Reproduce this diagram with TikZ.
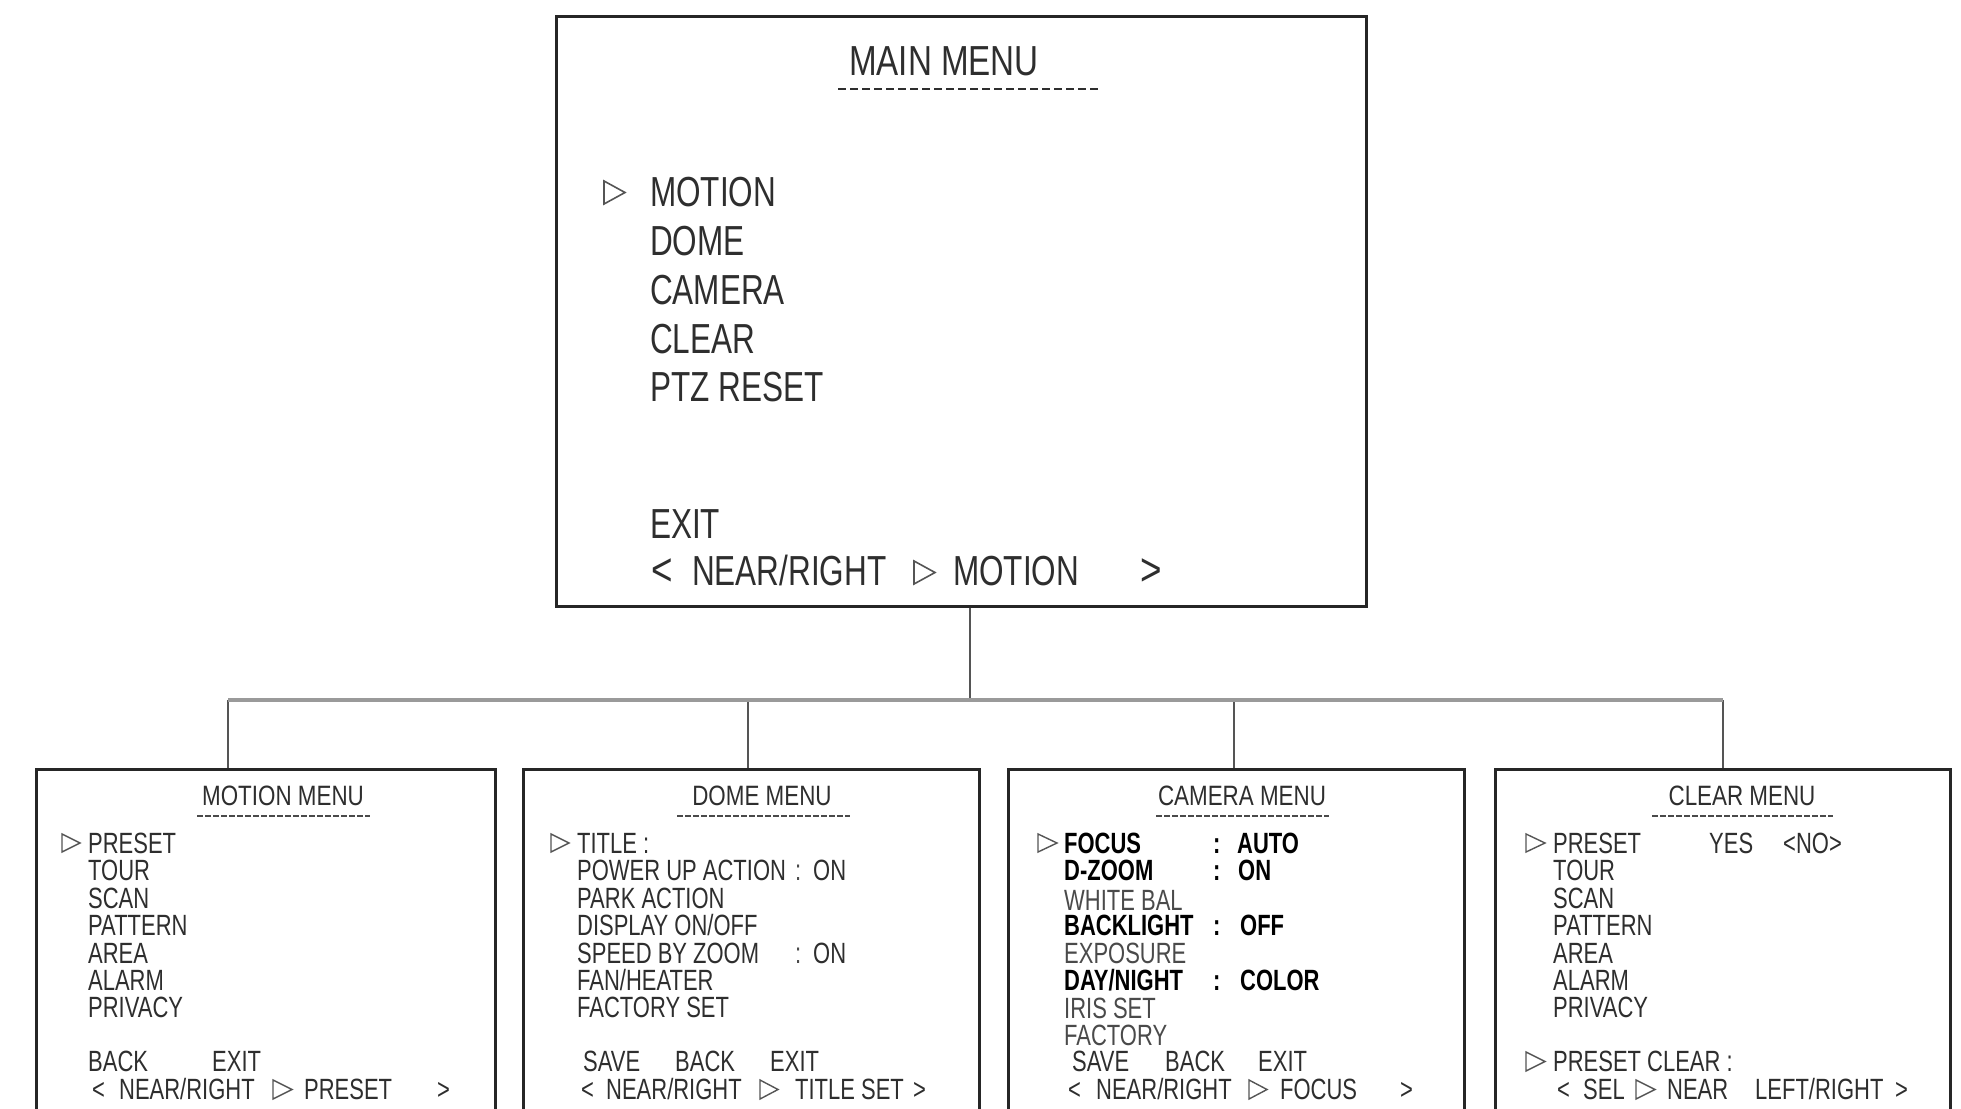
\documentclass[tikz,border=0pt]{standalone}
\usepackage{fontspec}
\newfontfamily\condA[FakeStretch=0.75]{Liberation Sans}
\newfontfamily\condT[FakeStretch=0.80]{Liberation Sans}
\newfontfamily\condM[FakeStretch=0.79]{Liberation Sans}
\definecolor{txtc}{HTML}{2E2E2E}
\definecolor{lightc}{HTML}{4A4A4A}
\definecolor{boxc}{HTML}{262626}
\definecolor{linec}{HTML}{555555}
\definecolor{barc}{HTML}{9A9A9A}
\begin{document}
\begin{tikzpicture}[x=1pt,y=-1pt,
  menubox/.style={draw=boxc,line width=3pt,inner sep=0pt,fill=none},
  mtxt/.style={anchor=base west,inner sep=0pt,text=txtc,font=\condA\fontsize{42}{42}\selectfont},
  mttl/.style={anchor=base,inner sep=0pt,text=txtc,font=\condM\fontsize{42}{42}\selectfont},
  stxt/.style={anchor=base west,inner sep=0pt,text=txtc,font=\condA\fontsize{29.3}{30}\selectfont},
  sbold/.style={stxt,text=black,font=\condA\bfseries\fontsize{29.3}{30}\selectfont},
  slight/.style={stxt,text=lightc},
  sttl/.style={anchor=base,inner sep=0pt,text=txtc,font=\condT\fontsize{28}{28}\selectfont},
  mdash/.style={draw=txtc,line width=2.6pt,dash pattern=on 8pt off 4pt},
  sdash/.style={draw=lightc,line width=2.4pt,dash pattern=on 5.5pt off 2.5pt},
  tribig/.style={draw=linec,line width=1.6pt,line join=miter},
  trismall/.style={draw=linec,line width=1.4pt,line join=miter},
  conn/.style={draw=linec,line width=1.4pt},
  bar/.style={draw=barc,line width=3.5pt}
]
\useasboundingbox (0,0) rectangle (1961,1108);
\clip (0,0) rectangle (1961,1108);
\fill[white] (0,0) rectangle (1961,1108);

% ---------------- main menu ----------------
\node[menubox,minimum width=810pt,minimum height=589pt] (main) at (961,311.5) {};
\node[mttl] (mtitle) at (944,75) {MAIN MENU};
\draw[mdash] (838,89) -- (1099,89);
\draw[tribig] (604,181) -- (625,192.5) -- (604,204) -- cycle;
\node[mtxt] (m1) at (650,206) {MOTION};
\node[mtxt] (m2) at (650,255) {DOME};
\node[mtxt] (m3) at (650,304) {CAMERA};
\node[mtxt] (m4) at (650,353) {CLEAR};
\node[mtxt] (m5) at (650,401) {PTZ RESET};
\node[mtxt] (m6) at (650,538) {EXIT};
\node[mtxt,font=\condT\fontsize{46}{46}\selectfont] (mlt) at (651,585) {<};
\node[mtxt] (mnr) at (692,585) {NEAR/RIGHT};
\draw[tribig] (914,561) -- (935,572.5) -- (914,584) -- cycle;
\node[mtxt] (mmo) at (953,585) {MOTION};
\node[mtxt,font=\condT\fontsize{46}{46}\selectfont] (mgt) at (1140,585) {>};

% ---------------- sub menu boxes ----------------
\node[menubox,minimum width=459pt,minimum height=370pt,anchor=north west] (mot) at (34.5,767.5) {};
\node[menubox,minimum width=456pt,minimum height=370pt,anchor=north west] (dom) at (521.5,767.5) {};
\node[menubox,minimum width=456pt,minimum height=370pt,anchor=north west] (cam) at (1006.5,767.5) {};
\node[menubox,minimum width=455pt,minimum height=370pt,anchor=north west] (clr) at (1493.5,767.5) {};

% ---------------- connectors ----------------
\coordinate (jn) at (970,700);
\coordinate (h1) at (228,700);
\coordinate (h2) at (748,700);
\coordinate (h3) at (1234,700);
\coordinate (h4) at (1723,700);
\draw[conn] (main.south -| jn) -- (jn);
\draw[conn] (h1) -- (h1 |- mot.north);
\draw[conn] (h2) -- (h2 |- dom.north);
\draw[conn] (h3) -- (h3 |- cam.north);
\draw[conn] (h4) -- (h4 |- clr.north);
\draw[bar] (h1) -- (h4);

% ---------------- motion menu ----------------
\node[sttl] (t1) at (283,805) {MOTION MENU};
\draw[sdash] (197,816) -- (370,816);
\draw[trismall] (62,834) -- (80,843) -- (62,852) -- cycle;
\node[stxt] (a1) at (88,853) {PRESET};
\node[stxt] (a2) at (88,880.5) {TOUR};
\node[stxt] (a3) at (88,908) {SCAN};
\node[stxt] (a4) at (88,935.5) {PATTERN};
\node[stxt] (a5) at (88,963) {AREA};
\node[stxt] (a6) at (88,990) {ALARM};
\node[stxt] (a7) at (88,1017) {PRIVACY};
\node[stxt] (a8) at (88,1071) {BACK};
\node[stxt] (a9) at (212,1071) {EXIT};
\node[stxt] (a10) at (92,1099) {<};
\node[stxt] (a11) at (119,1099) {NEAR/RIGHT};
\draw[trismall] (273,1080) -- (292,1089.5) -- (273,1099) -- cycle;
\node[stxt] (a12) at (304,1099) {PRESET};
\node[stxt] (a13) at (437,1099) {>};

% ---------------- dome menu ----------------
\node[sttl] (t2) at (762,805) {DOME MENU};
\draw[sdash] (677,816) -- (850,816);
\draw[trismall] (551,834) -- (569,843) -- (551,852) -- cycle;
\node[stxt] (b1) at (577,853) {TITLE :};
\node[stxt] (b2) at (577,880.5) {POWER UP ACTION};
\node[slight] (b2c) at (795,880.5) {:};
\node[stxt] (b2v) at (813,880.5) {ON};
\node[stxt] (b3) at (577,908) {PARK ACTION};
\node[stxt] (b4) at (577,935.5) {DISPLAY ON/OFF};
\node[stxt] (b5) at (577,963) {SPEED BY ZOOM};
\node[slight] (b5c) at (795,963) {:};
\node[stxt] (b5v) at (813,963) {ON};
\node[stxt] (b6) at (577,990) {FAN/HEATER};
\node[stxt] (b7) at (577,1017) {FACTORY SET};
\node[stxt] (b8) at (583,1071) {SAVE};
\node[stxt] (b9) at (675,1071) {BACK};
\node[stxt] (b10) at (770,1071) {EXIT};
\node[stxt] (b11) at (581,1099) {<};
\node[stxt] (b12) at (606,1099) {NEAR/RIGHT};
\draw[trismall] (760,1080) -- (778,1089.5) -- (760,1099) -- cycle;
\node[stxt] (b13) at (795,1099) {TITLE SET};
\node[stxt] (b14) at (913,1099) {>};

% ---------------- camera menu ----------------
\node[sttl] (t3) at (1242,805) {CAMERA MENU};
\draw[sdash] (1156,816) -- (1329,816);
\draw[trismall] (1038,834) -- (1057,843) -- (1038,852) -- cycle;
\node[sbold] (c1) at (1064,853) {FOCUS};
\node[sbold] (c1c) at (1213,853) {:};
\node[sbold] (c1v) at (1237,853) {AUTO};
\node[sbold] (c2) at (1064,880.5) {D-ZOOM};
\node[sbold] (c2c) at (1213,880.5) {:};
\node[sbold] (c2v) at (1238,880.5) {ON};
\node[slight] (c3) at (1064,910) {WHITE BAL};
\node[sbold] (c4) at (1064,935.5) {BACKLIGHT};
\node[sbold] (c4c) at (1213,935.5) {:};
\node[sbold] (c4v) at (1240,935.5) {OFF};
\node[slight] (c5) at (1064,963) {EXPOSURE};
\node[sbold] (c6) at (1064,990) {DAY/NIGHT};
\node[sbold] (c6c) at (1213,990) {:};
\node[sbold] (c6v) at (1240,990) {COLOR};
\node[slight] (c7) at (1064,1018) {IRIS SET};
\node[slight] (c8) at (1064,1045) {FACTORY};
\node[stxt] (c9) at (1072,1071) {SAVE};
\node[stxt] (c10) at (1165,1071) {BACK};
\node[stxt] (c11) at (1258,1071) {EXIT};
\node[stxt] (c12) at (1068,1099) {<};
\node[stxt] (c13) at (1096,1099) {NEAR/RIGHT};
\draw[trismall] (1249,1080) -- (1267,1089.5) -- (1249,1099) -- cycle;
\node[stxt] (c14) at (1280,1099) {FOCUS};
\node[stxt] (c15) at (1400,1099) {>};

% ---------------- clear menu ----------------
\node[sttl] (t4) at (1742,805) {CLEAR MENU};
\draw[sdash] (1652,816) -- (1833,816);
\draw[trismall] (1526,834) -- (1545,843) -- (1526,852) -- cycle;
\node[stxt] (d1) at (1553,853) {PRESET};
\node[stxt] (d1y) at (1709,853) {YES};
\node[stxt] (d1n) at (1783,853) {<NO>};
\node[stxt] (d2) at (1553,880.5) {TOUR};
\node[stxt] (d3) at (1553,908) {SCAN};
\node[stxt] (d4) at (1553,935.5) {PATTERN};
\node[stxt] (d5) at (1553,963) {AREA};
\node[stxt] (d6) at (1553,990) {ALARM};
\node[stxt] (d7) at (1553,1017) {PRIVACY};
\draw[trismall] (1526,1052) -- (1545,1061.5) -- (1526,1071) -- cycle;
\node[stxt] (d8) at (1553,1071) {PRESET CLEAR :};
\node[stxt] (d9) at (1557,1099) {<};
\node[stxt] (d10) at (1583,1099) {SEL};
\draw[trismall] (1636,1080) -- (1655,1089.5) -- (1636,1099) -- cycle;
\node[stxt] (d11) at (1667,1099) {NEAR};
\node[stxt] (d12) at (1755,1099) {LEFT/RIGHT};
\node[stxt] (d13) at (1895,1099) {>};
\end{tikzpicture}
\end{document}
